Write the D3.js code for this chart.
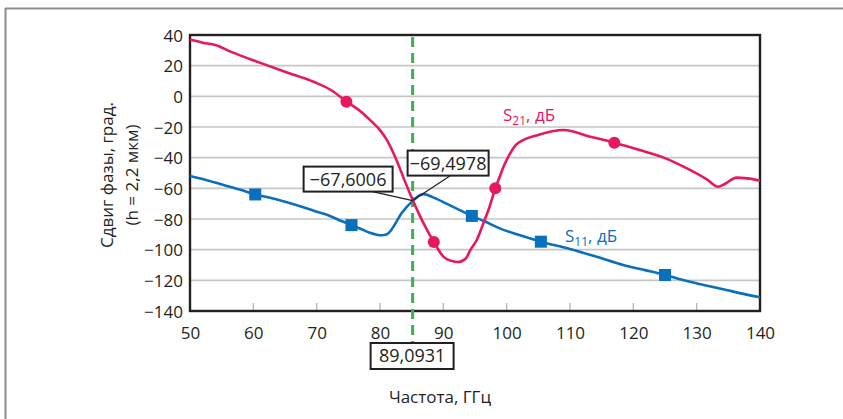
<!DOCTYPE html>
<html>
<head>
<meta charset="utf-8">
<script src="https://cdn.jsdelivr.net/npm/d3@7"></script>
<style>
  html, body { margin: 0; padding: 0; background: #fff; }
  svg { display: block; font-family: "Open Sans", "Noto Sans", sans-serif; }
</style>
</head>
<body>
<svg id="chart" width="843" height="419"></svg>
<script>
// Frequency axis (GHz) and phase axis (degrees)
const xTicks = [50, 60, 70, 80, 90, 100, 110, 120, 130, 140];
const yTicks = [40, 20, 0, -20, -40, -60, -80, -100, -120, -140];

// S21 phase curve
const s21Freq  = [50, 52, 54, 56.5, 61, 65, 69.5, 72.5, 74.7, 77, 78.7, 80, 81.1, 82.6, 83.8, 85.2, 86.3, 87.4, 88.5, 90, 91, 92.3, 93.5, 94.3, 95.3, 96.3, 97.3, 98.2, 98.9, 99.5, 100.5, 101.5, 102.6, 104.7, 109, 113.2, 117, 121, 124.7, 128, 131.6, 133.4, 134.5, 136.3, 138, 140];
const s21Phase = [37, 35, 33.5, 29, 22, 16, 9.5, 3.5, -3.5, -10, -16.5, -22, -28.5, -41.5, -54, -68, -78, -87, -95, -104.5, -107, -108, -106, -100, -93.5, -83, -72, -60, -52.5, -46, -37.5, -31.5, -28.5, -25.5, -22, -26.3, -30.2, -35, -39.8, -46, -54.1, -59, -57, -53, -53.5, -55];
const s21MarkFreq  = [74.7, 88.5, 98.2, 117];
const s21MarkPhase = [-3.5, -95, -60, -30.2];

// S11 phase curve
const s11Freq  = [50, 52.5, 55.3, 58, 60.3, 62.5, 65.3, 68, 70, 72.1, 74, 75.5, 77, 78.4, 80.3, 81.1, 81.8, 83.4, 85.2, 86.3, 86.9, 88.4, 90.5, 92.5, 94.5, 96.5, 98.9, 102, 105.4, 110, 114.2, 118.4, 122, 125, 128, 131.1, 134.7, 137, 140];
const s11Phase = [-52, -54.5, -57.8, -61, -64, -66, -69.1, -72.5, -75.2, -78, -81.5, -84, -86.5, -88.9, -90.6, -90, -87, -76.3, -68, -64.5, -63.8, -65.9, -70, -74, -78, -81.5, -86.1, -90.5, -94.8, -99.5, -104.6, -110, -113.5, -116.5, -120, -123, -126.3, -128.5, -131];
const s11MarkFreq  = [60.3, 75.5, 94.5, 105.4, 125];
const s11MarkPhase = [-64, -84, -78, -94.8, -116.5];

// Marker readout
const markerFreq = 85.15;
const markerLabel = "89,0931";
const crossPhase = -68;
const readoutLabels = ["\u221267,6006", "\u221269,4978"];

const W = 843, H = 419;
const margin = { top: 35, right: 83, bottom: 108, left: 190 };
const svg = d3.select("#chart");

const x = d3.scaleLinear().domain([50, 140]).range([margin.left, W - margin.right]);
const y = d3.scaleLinear().domain([-140, 40]).range([H - margin.bottom, margin.top]);

const pink = "#e8185e", blue = "#0a6fbc", green = "#3db24a";
const ink = "#231f20";
const fmt = d => d < 0 ? "\u2212" + Math.abs(d) : String(d);

// outer page frame
svg.append("line").attr("x1", 5).attr("x2", W).attr("y1", 8.5).attr("y2", 8.5)
  .attr("stroke", "#8c8c8c").attr("stroke-width", 2);
svg.append("line").attr("x1", 5.5).attr("x2", 5.5).attr("y1", 8).attr("y2", H)
  .attr("stroke", "#8c8c8c").attr("stroke-width", 2);

// horizontal gridlines
svg.append("g").selectAll("line")
  .data(yTicks.filter(v => v > -140 && v < 40))
  .join("line")
  .attr("x1", x(50)).attr("x2", x(140))
  .attr("y1", d => y(d)).attr("y2", d => y(d))
  .attr("stroke", "#c6c6c6").attr("stroke-width", 1.6);

// x ticks pointing into the plot
svg.append("g").selectAll("line")
  .data(xTicks.filter(v => v > 50 && v < 140))
  .join("line")
  .attr("x1", d => x(d)).attr("x2", d => x(d))
  .attr("y1", y(-140)).attr("y2", y(-140) - 8)
  .attr("stroke", "#b8b8b8").attr("stroke-width", 1.4);

// axis labels via d3 axes (lines hidden, text kept)
const xAxis = svg.append("g")
  .attr("transform", `translate(0,${y(-140)})`)
  .call(d3.axisBottom(x).tickValues(xTicks).tickSize(0).tickPadding(16).tickFormat(fmt));
const yAxis = svg.append("g")
  .attr("transform", `translate(${x(50)},0)`)
  .call(d3.axisLeft(y).tickValues(yTicks).tickSize(0).tickPadding(7).tickFormat(fmt));
[xAxis, yAxis].forEach(a => {
  a.select(".domain").remove();
  a.selectAll("text").attr("font-size", 17).attr("fill", ink)
    .attr("font-family", "'Open Sans', sans-serif");
});
yAxis.selectAll("text").attr("dy", "0.36em");

// plot frame
svg.append("rect")
  .attr("x", x(50)).attr("y", y(40))
  .attr("width", x(140) - x(50)).attr("height", y(-140) - y(40))
  .attr("fill", "none").attr("stroke", ink).attr("stroke-width", 2.4);

// marker dashed line
svg.append("line")
  .attr("x1", x(markerFreq)).attr("x2", x(markerFreq))
  .attr("y1", y(40) + 2).attr("y2", 343)
  .attr("stroke", green).attr("stroke-width", 3)
  .attr("stroke-dasharray", "10,6");

const line = d3.line().x(d => x(d[0])).y(d => y(d[1])).curve(d3.curveMonotoneX);

// S11 curve + squares
svg.append("path")
  .datum(d3.zip(s11Freq, s11Phase))
  .attr("d", line).attr("fill", "none")
  .attr("stroke", blue).attr("stroke-width", 2.6);
svg.append("g").selectAll("rect")
  .data(d3.zip(s11MarkFreq, s11MarkPhase))
  .join("rect")
  .attr("x", d => x(d[0]) - 6).attr("y", d => y(d[1]) - 6)
  .attr("width", 12).attr("height", 12).attr("fill", blue);

// S21 curve + dots
svg.append("path")
  .datum(d3.zip(s21Freq, s21Phase))
  .attr("d", line).attr("fill", "none")
  .attr("stroke", pink).attr("stroke-width", 2.6);
svg.append("g").selectAll("circle")
  .data(d3.zip(s21MarkFreq, s21MarkPhase))
  .join("circle")
  .attr("cx", d => x(d[0])).attr("cy", d => y(d[1]))
  .attr("r", 6).attr("fill", pink);

// readout boxes with leader lines to the crossing
const cx = x(markerFreq), cy = y(crossPhase);
const boxes = [
  { text: readoutLabels[0], x0: cx - 109, y0: cy - 34, w: 89, h: 25, ax: cx - 40, ay: cy - 9 },
  { text: readoutLabels[1], x0: cx - 5, y0: cy - 50, w: 81, h: 25, ax: cx + 38, ay: cy - 25 }
];
boxes.forEach(b => {
  svg.append("line").attr("x1", b.ax).attr("y1", b.ay).attr("x2", cx).attr("y2", cy)
    .attr("stroke", ink).attr("stroke-width", 1.2);
  svg.append("rect").attr("x", b.x0).attr("y", b.y0).attr("width", b.w).attr("height", b.h)
    .attr("fill", "#fff").attr("stroke", ink).attr("stroke-width", 2);
  svg.append("text").attr("x", b.x0 + b.w / 2).attr("y", b.y0 + b.h / 2).attr("dy", "0.36em")
    .attr("text-anchor", "middle").attr("font-size", 18).attr("fill", ink)
    .text(b.text);
});

// frequency readout box under the axis
svg.append("rect").attr("x", cx - 42).attr("y", 343).attr("width", 83).attr("height", 26)
  .attr("fill", "#fff").attr("stroke", ink).attr("stroke-width", 2);
svg.append("text").attr("x", cx - 0.5).attr("y", 356).attr("dy", "0.36em")
  .attr("text-anchor", "middle").attr("font-size", 18).attr("fill", ink)
  .text(markerLabel);

// series labels
function seriesLabel(px, py, sub, color) {
  const t = svg.append("text").attr("x", px).attr("y", py)
    .attr("font-size", 17).attr("fill", color);
  t.append("tspan").text("S");
  t.append("tspan").attr("font-size", 12).attr("dy", 4).text(sub);
  t.append("tspan").attr("dy", -4).text(", дБ");
}
seriesLabel(503, 121, "21", pink);
seriesLabel(565, 242, "11", blue);

// axis titles
svg.append("text").attr("x", 440).attr("y", 403)
  .attr("text-anchor", "middle").attr("font-size", 17).attr("fill", ink)
  .text("Частота, ГГц");
const yt = svg.append("text")
  .attr("transform", `translate(113,175) rotate(-90)`)
  .attr("text-anchor", "middle").attr("font-size", 17).attr("fill", ink);
yt.append("tspan").attr("x", 0).attr("y", 0).text("Сдвиг фазы, град.");
yt.append("tspan").attr("x", 0).attr("y", 25).text("(h = 2,2 мкм)");
</script>
</body>
</html>
